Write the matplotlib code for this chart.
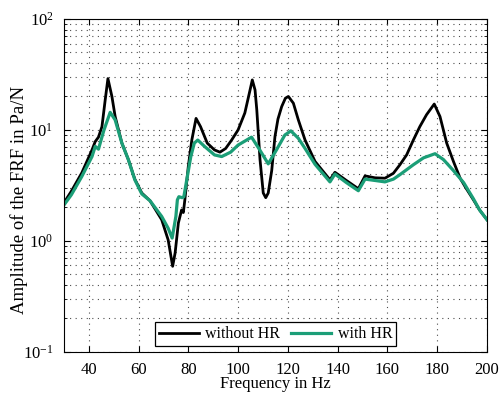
import matplotlib
matplotlib.use("Agg")
import matplotlib.pyplot as plt
from matplotlib.ticker import LogLocator, NullFormatter, FixedLocator

# frequency / amplitude
freq_without = [30, 33, 37.2, 41.3, 42.6, 43.9, 45.3, 46.6, 47.7, 49.3, 50.6, 53.3, 55.9, 58.5,
                61.3, 64.6, 69.3, 71.9, 73.7, 74.7, 76.0, 77.3, 78.0, 78.6, 80.0, 81.4, 83.1,
                84.9, 87.6, 90.5, 92.7, 95.0, 97.4, 100.0, 102.7, 104.8, 105.7, 106.8, 107.5, 108.8,
                110.1, 111.1, 112.1, 113.5, 114.8, 116.0, 117.5, 119.0, 120.2, 122.2, 124.2, 126.9,
                130.9, 136.9, 138.9, 143.5, 148.3, 151.0, 155.0, 159.0, 162.4, 165.0, 167.7,
                170.4, 173.0, 175.7, 178.8, 181.1, 183.8, 186.5, 189.2, 191.5, 194.5, 197.0, 200]
amp_without = [2.2, 2.8, 4.1, 6.6, 7.85, 8.6, 10.7, 18.6, 29.0, 20.0, 13.2, 7.6, 5.4, 3.6,
               2.7, 2.3, 1.55, 1.02, 0.59, 0.78, 1.45, 1.9, 1.8, 2.34, 4.7, 8.1, 12.7,
               10.7, 7.6, 6.6, 6.3, 6.8, 8.1, 10.0, 14.2, 22.9, 28.2, 22.9, 15.2, 5.4,
               2.7, 2.45, 2.7, 4.3, 8.7, 12.5, 16.2, 19.3, 20.0, 17.4, 12.3, 8.1,
               5.2, 3.55, 4.15, 3.5, 2.95, 3.85, 3.7, 3.67, 4.07, 4.85, 5.95,
               8.1, 10.7, 13.7, 17.1, 13.2, 7.6, 5.2, 3.67, 3.0, 2.35, 1.9, 1.55]

freq_with = [30, 33, 37.2, 41.3, 42.6, 43.9, 46.0, 48.6, 50.6, 53.3, 55.9, 58.5,
             61.3, 64.6, 69.3, 71.9, 73.5, 75.0, 75.6, 76.2, 77.5, 78.2, 79.6, 81.0, 82.4,
             83.8, 86.5, 90.5, 93.4, 97.0, 100.0, 105.4, 108.7, 112.1, 115.4, 118.8, 121.2,
             124.2, 126.9, 130.9, 136.9, 138.9, 143.5, 148.3, 151.0, 155.0, 159.0, 162.4,
             165.0, 170.4, 174.5, 179.1, 182.5, 186.5, 190.6, 194.5, 197.0, 200]
amp_with = [2.1, 2.6, 3.8, 5.75, 7.1, 6.7, 9.8, 14.4, 12.3, 7.6, 5.4, 3.55,
            2.65, 2.3, 1.66, 1.3, 1.06, 1.66, 2.34, 2.5, 2.45, 2.5, 3.8, 5.75, 7.6,
            8.1, 7.1, 5.95, 5.75, 6.3, 7.3, 8.6, 6.6, 4.94, 6.6, 9.0, 9.8,
            8.4, 6.8, 4.9, 3.4, 4.0, 3.35, 2.83, 3.6, 3.5, 3.4, 3.6,
            3.95, 4.85, 5.6, 6.1, 5.4, 4.3, 3.35, 2.4, 1.9, 1.55]

plt.rcParams['font.family'] = ['Liberation Serif', 'DejaVu Serif']
plt.rcParams['mathtext.fontset'] = 'stix'
plt.rcParams['font.size'] = 12

fig = plt.figure(figsize=(4.99, 3.94), dpi=100)
ax = fig.add_axes([0.128, 0.107, 0.848, 0.845])

ax.plot(freq_without, amp_without, color='black', lw=2.0, label='without HR')
ax.plot(freq_with, amp_with, color='#1b9e77', lw=2.3, label='with HR')

ax.set_yscale('log')
ax.set_xlim(30, 200)
ax.set_ylim(0.1, 100)
ax.xaxis.set_major_locator(FixedLocator([40, 60, 80, 100, 120, 140, 160, 180, 200]))
ax.yaxis.set_major_locator(LogLocator(base=10, numticks=10))
ax.yaxis.set_minor_locator(LogLocator(base=10, subs=range(2, 10), numticks=20))
ax.yaxis.set_minor_formatter(NullFormatter())

grid_style = dict(linestyle=(0, (1, 4)), color='0.3', lw=0.8)
ax.grid(True, which='major', **grid_style)
ax.grid(True, which='minor', axis='y', **grid_style)
ax.tick_params(which='both', direction='in', top=True, right=True, labelsize=12)
ax.tick_params(which='major', length=4)
ax.tick_params(which='minor', length=2)
ax.tick_params(axis='x', which='major', pad=7)
ax.tick_params(axis='y', which='major', pad=7.5)

ax.set_xlabel('Frequency in Hz', fontsize=12, labelpad=-1)
ax.set_ylabel('Amplitude of the FRF in Pa/N', fontsize=13.5)
ax.yaxis.set_label_coords(-0.085, 0.456)

leg = ax.legend(loc='lower center', ncol=2, fancybox=False, framealpha=1,
                edgecolor='black', fontsize=11.5, handlelength=2.5, borderpad=0.25,
                columnspacing=0.7, handletextpad=0.4, borderaxespad=0.35)
leg.get_frame().set_linewidth(0.9)

fig.savefig('out.png', dpi=100)
